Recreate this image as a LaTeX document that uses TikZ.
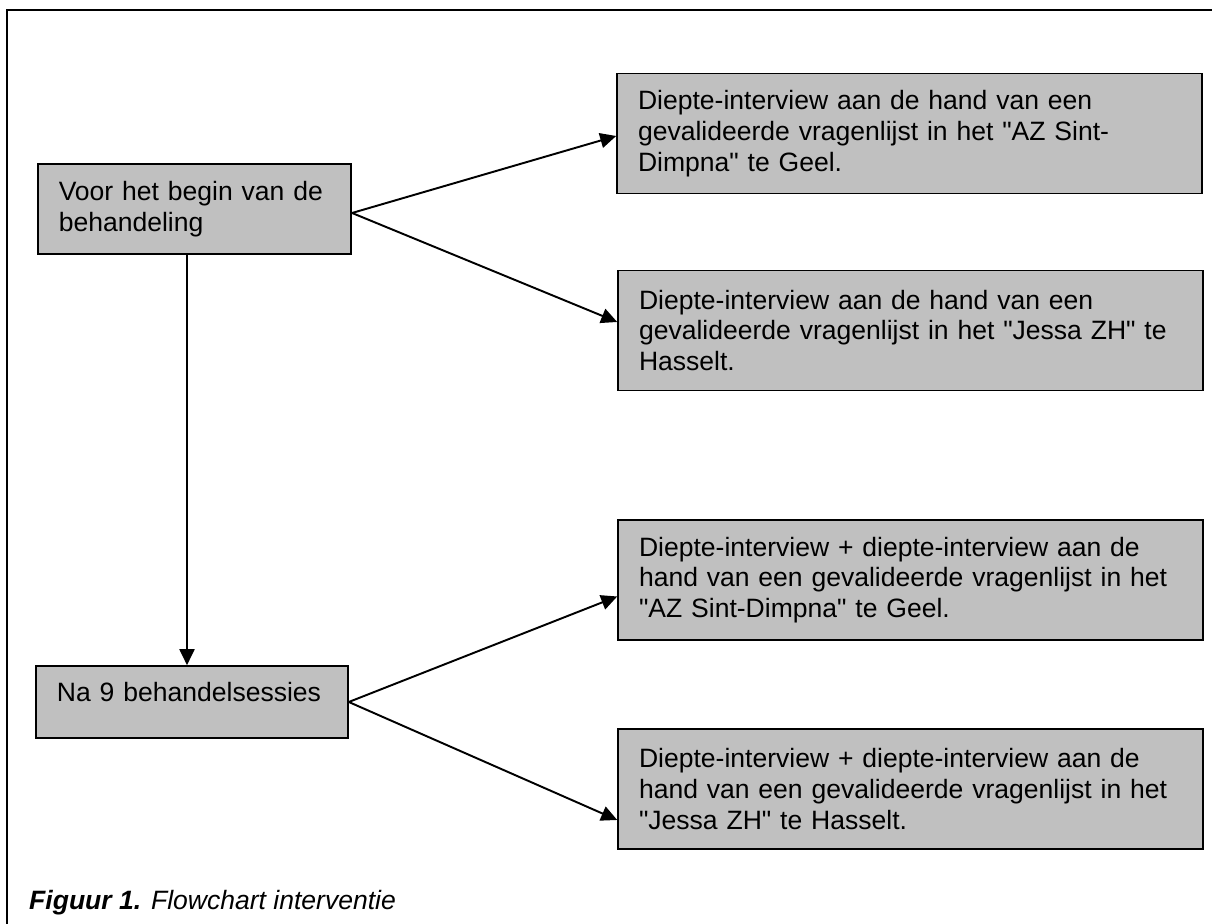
\documentclass[tikz,border=0pt]{standalone}
\usepackage{fontspec}
\setmainfont{Liberation Sans}[Ligatures=TeXOff]
\usetikzlibrary{arrows.meta}
\definecolor{vakgrijs}{RGB}{192,192,192}

\begin{document}
\begin{tikzpicture}[
  vak/.style={draw, line width=0.9pt, fill=vakgrijs, align=left, inner xsep=0.42cm,
    font=\fontsize{15.1pt}{17.5pt}\selectfont},
  breedvak/.style={vak, minimum width=11.7cm, minimum height=2.4cm, text width=10.86cm},
  pijl/.style={line width=1.1pt, -{Triangle[length=0.32cm,width=0.3cm]}}
]
\useasboundingbox (0,0) rectangle (24.24,18.48);
%% kader: alleen boven en links zichtbaar
\draw[line width=1.6pt] (0.14,0) -- (0.14,18.28) -- (24.24,18.28);
%% linkerkolom
\node[vak, minimum width=6.27cm, minimum height=1.8cm, text width=5.43cm] (voor) at (3.89,14.3) {Voor het begin van de\\behandeling};
\node[vak, minimum width=6.24cm, minimum height=1.44cm, text width=5.4cm, text depth=0.4cm] (na) at (3.84,4.44) {Na 9 behandelsessies};
%% rechterkolom
\node[breedvak] (geel1) at (18.19,15.81) {Diepte-interview aan de hand van een\\gevalideerde vragenlijst in het "AZ Sint-\\Dimpna" te Geel.};
\node[breedvak] (hasselt1) at (18.21,11.87) {Diepte-interview aan de hand van een\\gevalideerde vragenlijst in het "Jessa ZH" te\\Hasselt.};
\node[breedvak] (geel2) at (18.21,6.88) {Diepte-interview + diepte-interview aan de\\hand van een gevalideerde vragenlijst in het\\"AZ Sint-Dimpna" te Geel.};
\node[breedvak] (hasselt2) at (18.21,2.7) {Diepte-interview + diepte-interview aan de\\hand van een gevalideerde vragenlijst in het\\"Jessa ZH" te Hasselt.};
%% pijlen
\draw[pijl] ([yshift=-0.08cm]voor.east) -- ([yshift=-0.05cm]geel1.west);
\draw[pijl] ([yshift=-0.08cm]voor.east) -- ([yshift=0.17cm]hasselt1.west);
\draw[pijl] ([xshift=-0.15cm]voor.south) -- ([xshift=-0.1cm]na.north);
\draw[pijl] (na.east) -- ([yshift=-0.33cm]geel2.west);
\draw[pijl] (na.east) -- ([yshift=-0.62cm]hasselt2.west);
%% onderschrift
\node[anchor=base west, font=\fontsize{15.1pt}{17.5pt}\selectfont] (bijschrift) at (0.46,0.28) {{\bfseries\itshape Figuur 1.} {\itshape Flowchart interventie}};
\end{tikzpicture}
\end{document}
